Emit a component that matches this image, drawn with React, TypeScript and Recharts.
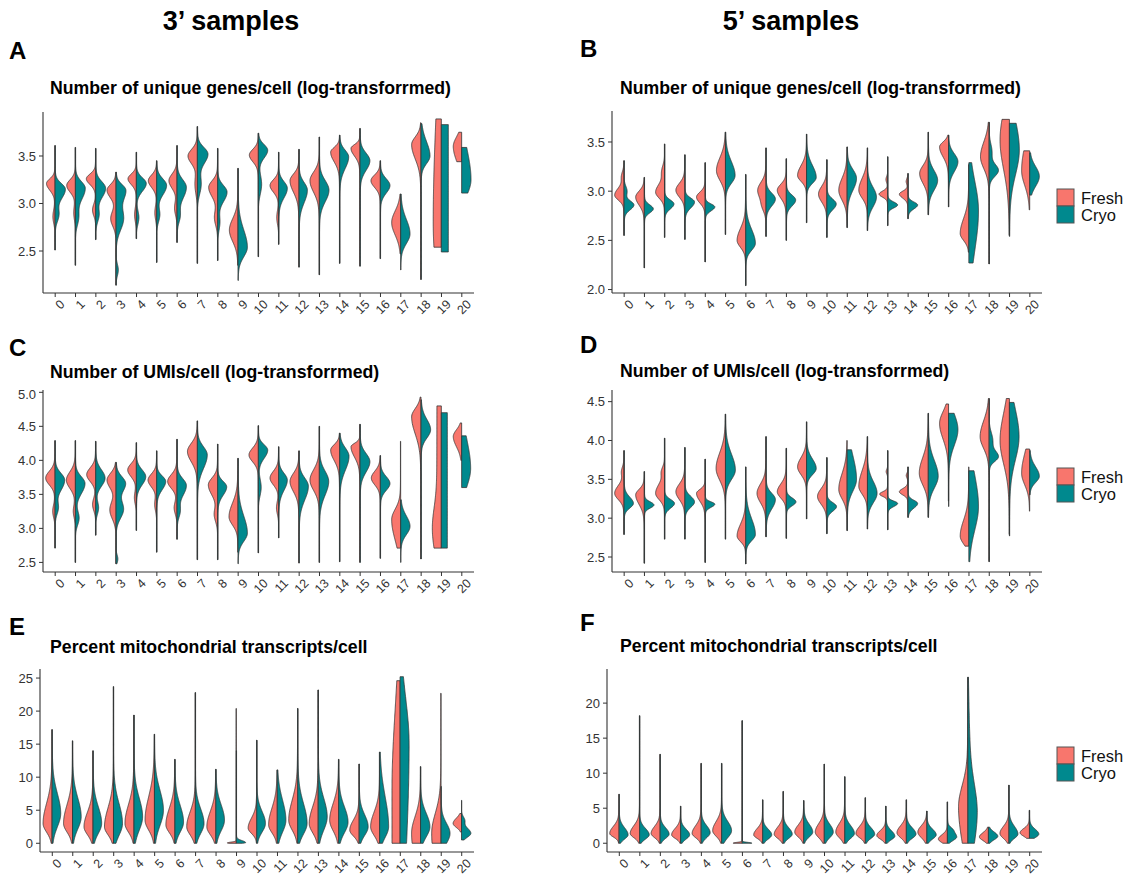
import React from 'react';
import { ComposedChart, Bar, XAxis, YAxis } from 'recharts';

// ---------- categories ----------
const CATS = ['0','1','2','3','4','5','6','7','8','9','10','11','12','13','14','15','16','17','18','19','20'];
const SERIES = ['Fresh', 'Cryo'];

// each half violin: [lo, hi, relWidth, mode, sdDown, sdUp, (mode2, amp2, sd2)...]
// ---------- A: genes/cell, 3' ----------
const genes3Fresh = [
  [2.51,3.61,0.95,3.21,0.07,0.05,2.86,0.25,0.07],
  [2.35,3.59,0.96,3.19,0.07,0.06,2.9,0.18,0.07],
  [2.62,3.58,1.04,3.26,0.06,0.05,2.93,0.35,0.06],
  [2.14,3.33,1.0,3.14,0.08,0.06,2.84,0.6,0.08],
  [2.63,3.54,0.93,3.26,0.06,0.05,2.88,0.22,0.07],
  [2.38,3.45,0.93,3.24,0.07,0.06,2.9,0.22,0.07],
  [2.59,3.61,0.9,3.24,0.08,0.07,2.95,0.3,0.07],
  [2.37,3.81,1.04,3.5,0.08,0.07,3.2,0.25,0.1],
  [2.4,3.58,1.0,3.17,0.1,0.07,2.85,0.35,0.08],
  [2.35,3.37,0.96,2.72,0.12,0.12],
  [2.44,3.74,1.0,3.51,0.07,0.06],
  [2.57,3.54,0.96,3.19,0.07,0.06,2.85,0.22,0.07],
  [2.33,3.57,1.0,3.24,0.12,0.07],
  [2.25,3.7,1.04,3.24,0.12,0.09],
  [2.37,3.72,1.0,3.54,0.1,0.05],
  [2.34,3.79,1.0,3.58,0.08,0.04],
  [2.42,3.45,1.04,3.24,0.07,0.06],
  [2.47,3.1,1.0,2.8,0.13,0.12],
  [2.2,3.85,1.04,3.62,0.15,0.08],
  [2.54,3.89,0.9,2.8,0.6,1.2],
  [3.44,3.75,0.93,3.6,0.15,0.1],
];
const genes3Cryo = [
  [2.51,3.61,1.15,3.15,0.1,0.06,2.88,0.35,0.07],
  [2.35,3.59,1.1,3.16,0.12,0.07,2.85,0.3,0.08],
  [2.62,3.58,1.1,3.16,0.1,0.07,2.88,0.32,0.07],
  [2.14,3.33,1.1,3.14,0.1,0.06,2.84,0.8,0.12,2.3,0.25,0.06],
  [2.63,3.54,1.1,3.21,0.08,0.06,2.85,0.25,0.07],
  [2.38,3.45,1.1,3.19,0.1,0.07,2.88,0.3,0.07],
  [2.59,3.61,1.04,3.17,0.12,0.08,2.87,0.3,0.07],
  [2.37,3.81,1.18,3.52,0.1,0.07,3.2,0.35,0.1],
  [2.4,3.58,1.04,3.12,0.1,0.07,2.8,0.22,0.08],
  [2.19,3.37,1.04,2.54,0.1,0.18],
  [2.44,3.74,1.04,3.56,0.08,0.06,3.2,0.35,0.1],
  [2.57,3.54,0.96,3.16,0.1,0.07],
  [2.33,3.57,0.93,3.14,0.13,0.08],
  [2.25,3.7,1.07,3.14,0.12,0.1],
  [2.37,3.72,1.0,3.49,0.12,0.07],
  [2.34,3.79,1.1,3.45,0.1,0.08],
  [2.42,3.45,1.07,3.19,0.08,0.07],
  [2.3,3.1,1.04,2.68,0.1,0.15],
  [2.2,3.84,1.0,3.5,0.08,0.15],
  [2.49,3.83,0.78,3.2,10,10],
  [3.11,3.59,1.04,3.25,0.15,0.3],
];

// ---------- B: genes/cell, 5' ----------
const genes5Fresh = [
  [2.55,3.31,1.04,2.96,0.05,0.07,3.15,0.25,0.05],
  [2.22,3.14,0.96,2.94,0.08,0.06],
  [2.53,3.48,1.0,2.99,0.06,0.08,3.2,0.3,0.06],
  [2.51,3.37,1.0,3.01,0.07,0.07],
  [2.28,3.29,0.96,2.94,0.06,0.05],
  [2.56,3.6,1.0,3.21,0.1,0.13],
  [2.04,3.17,0.96,2.5,0.07,0.12],
  [2.54,3.44,0.93,3.01,0.08,0.08,2.85,0.4,0.06],
  [2.5,3.33,1.0,3.01,0.08,0.06],
  [2.68,3.58,1.0,3.16,0.06,0.1],
  [2.53,3.32,0.93,2.97,0.08,0.08],
  [2.63,3.45,0.93,3.01,0.1,0.12],
  [2.6,3.44,0.96,3.01,0.08,0.12],
  [2.65,3.35,0.96,2.97,0.03,0.03,3.12,0.2,0.03],
  [2.72,3.18,0.96,2.97,0.04,0.03,3.1,0.2,0.03],
  [2.76,3.6,0.96,3.18,0.1,0.08],
  [2.84,3.57,1.0,3.45,0.1,0.05],
  [2.38,3.27,0.96,2.57,0.07,0.15],
  [2.26,3.7,0.96,3.35,0.12,0.15],
  [2.55,3.73,1.04,3.52,0.3,0.3],
  [2.81,3.41,0.9,3.21,0.15,0.25],
];
const genes5Cryo = [
  [2.55,3.31,1.1,2.86,0.05,0.04,3.0,0.3,0.05],
  [2.22,3.14,1.0,2.82,0.04,0.04],
  [2.53,3.48,1.04,2.87,0.05,0.04],
  [2.51,3.37,1.07,2.89,0.06,0.04],
  [2.28,3.29,1.07,2.84,0.04,0.03],
  [2.56,3.6,1.07,3.16,0.08,0.14],
  [2.04,3.17,1.07,2.47,0.07,0.14],
  [2.54,3.44,1.04,2.92,0.07,0.06],
  [2.5,3.33,1.04,2.91,0.06,0.05],
  [2.68,3.58,1.07,3.14,0.06,0.12],
  [2.53,3.32,1.04,2.87,0.06,0.05],
  [2.63,3.45,1.04,3.13,0.12,0.09],
  [2.6,3.44,1.0,2.94,0.1,0.1],
  [2.65,3.35,1.1,2.86,0.03,0.03],
  [2.72,3.18,1.07,2.86,0.04,0.03],
  [2.76,3.6,1.04,3.11,0.1,0.1],
  [2.84,3.57,1.04,3.3,0.1,0.08],
  [2.27,3.29,1.07,2.8,0.4,0.3],
  [2.26,3.7,1.04,3.21,0.06,0.06,3.4,0.3,0.08],
  [2.54,3.69,1.1,3.42,0.25,0.3],
  [2.96,3.39,1.07,3.15,0.1,0.1],
];

// ---------- C: UMIs/cell, 3' ----------
const umi3Fresh = [
  [2.71,4.29,1.04,3.74,0.1,0.1,3.25,0.25,0.09],
  [2.5,4.29,1.0,3.71,0.12,0.12,3.25,0.22,0.09],
  [2.9,4.28,1.0,3.79,0.1,0.1,3.35,0.35,0.09],
  [2.48,3.97,1.0,3.71,0.12,0.1,3.27,0.7,0.13],
  [2.97,4.26,0.96,3.86,0.1,0.09,3.45,0.22,0.09],
  [2.65,4.14,0.96,3.71,0.1,0.09,3.35,0.22,0.09],
  [2.84,4.31,1.04,3.69,0.1,0.1,3.3,0.3,0.09],
  [2.54,4.58,1.1,4.13,0.15,0.12],
  [2.54,4.24,1.04,3.64,0.15,0.1,3.2,0.35,0.1],
  [2.65,4.03,1.0,3.17,0.12,0.2],
  [2.64,4.51,1.04,4.08,0.1,0.1],
  [2.86,4.2,0.96,3.74,0.1,0.1,3.3,0.25,0.09],
  [2.49,4.14,1.0,3.69,0.15,0.12],
  [2.5,4.5,1.04,3.71,0.15,0.15],
  [2.51,4.4,1.0,4.15,0.15,0.08],
  [2.5,4.53,1.0,4.2,0.15,0.05],
  [2.56,4.07,1.0,3.74,0.1,0.1],
  [2.71,4.28,1.0,3.13,0.3,0.15],
  [2.55,4.93,1.04,4.64,0.25,0.12],
  [2.71,4.8,1.0,3.0,0.3,0.3,3.8,1.0,10],
  [4.0,4.55,0.93,4.35,0.15,0.1],
];
const umi3Cryo = [
  [2.71,4.29,1.07,3.71,0.15,0.1,3.3,0.32,0.09],
  [2.5,4.29,1.07,3.66,0.15,0.1,3.15,0.38,0.1],
  [2.9,4.28,1.04,3.74,0.12,0.12,3.3,0.3,0.09],
  [2.48,3.97,1.07,3.66,0.12,0.1,3.28,0.8,0.13,2.55,0.2,0.06],
  [2.97,4.26,1.04,3.76,0.12,0.1],
  [2.65,4.14,1.0,3.69,0.12,0.08],
  [2.84,4.31,1.04,3.63,0.15,0.1,3.25,0.3,0.09],
  [2.54,4.58,1.1,4.08,0.2,0.12],
  [2.54,4.24,1.0,3.61,0.12,0.08],
  [2.48,4.03,1.04,2.93,0.12,0.25],
  [2.64,4.51,1.04,4.15,0.12,0.08,3.6,0.3,0.12],
  [2.86,4.2,0.96,3.71,0.15,0.1],
  [2.49,4.14,1.04,3.62,0.2,0.12],
  [2.5,4.5,1.04,3.69,0.2,0.15],
  [2.51,4.4,1.04,4.06,0.2,0.12],
  [2.5,4.53,1.1,3.98,0.15,0.12],
  [2.56,4.07,1.07,3.66,0.1,0.1],
  [2.5,3.42,1.04,3.03,0.12,0.15],
  [2.55,4.89,1.07,4.45,0.12,0.15],
  [2.71,4.7,0.67,3.7,10,10],
  [3.6,4.36,1.0,3.88,0.25,0.4],
];

// ---------- D: UMIs/cell, 5' ----------
const umi5Fresh = [
  [2.79,3.87,1.04,3.32,0.08,0.1,3.6,0.25,0.06],
  [2.42,3.6,0.96,3.3,0.12,0.07],
  [2.73,4.03,1.0,3.32,0.08,0.12,3.6,0.3,0.06],
  [2.73,3.91,1.0,3.34,0.1,0.1],
  [2.43,3.76,0.96,3.32,0.1,0.05],
  [2.73,4.34,1.04,3.64,0.15,0.2],
  [2.41,3.66,0.96,2.77,0.07,0.15],
  [2.76,4.05,1.0,3.32,0.12,0.12],
  [2.74,3.9,1.0,3.34,0.08,0.1],
  [2.99,4.24,1.0,3.66,0.1,0.12],
  [2.8,3.78,1.04,3.28,0.1,0.1],
  [2.84,4.0,0.93,3.37,0.12,0.2],
  [2.86,4.05,0.96,3.41,0.1,0.2],
  [2.85,3.87,0.9,3.31,0.03,0.03,3.6,0.2,0.03],
  [3.01,3.66,0.96,3.34,0.04,0.04,3.55,0.2,0.03],
  [3.01,4.35,1.0,3.58,0.15,0.2],
  [3.22,4.47,1.0,4.22,0.2,0.15],
  [2.64,3.66,0.96,2.77,0.1,0.2],
  [2.44,4.54,1.0,4.05,0.15,0.2],
  [2.79,4.54,1.04,4.0,0.3,0.35],
  [3.09,3.89,0.9,3.58,0.15,0.25],
];
const umi5Cryo = [
  [2.79,3.87,1.04,3.19,0.06,0.08],
  [2.42,3.6,1.07,3.17,0.04,0.04],
  [2.73,4.03,1.1,3.19,0.06,0.05],
  [2.73,3.91,1.07,3.21,0.07,0.07],
  [2.43,3.76,1.07,3.18,0.04,0.03],
  [2.73,4.34,1.1,3.62,0.12,0.2],
  [2.41,3.66,1.07,2.79,0.08,0.2],
  [2.76,4.05,1.04,3.24,0.12,0.08],
  [2.74,3.9,1.07,3.21,0.05,0.05],
  [2.99,4.24,1.07,3.64,0.08,0.12],
  [2.8,3.78,1.07,3.15,0.06,0.05],
  [2.84,3.88,1.04,3.5,0.15,0.3],
  [2.86,4.05,1.07,3.32,0.12,0.15],
  [2.85,3.87,1.1,3.19,0.04,0.03],
  [3.01,3.66,1.07,3.19,0.06,0.04],
  [3.01,4.35,1.1,3.54,0.15,0.2],
  [3.15,4.35,1.04,4.14,0.2,0.2],
  [2.44,3.61,1.07,3.15,0.3,0.4],
  [2.44,4.54,1.04,3.79,0.06,0.07,4.0,0.4,0.1],
  [2.77,4.49,1.07,4.05,0.3,0.35],
  [3.3,3.87,1.07,3.54,0.08,0.12],
];

// ---------- E: percent mito, 3' ----------
const mito3Fresh = [
  [0,17.2,1.0,3.0,1.3,3.0],
  [0,15.5,1.0,3.0,1.3,2.8],
  [0,14.0,1.0,2.5,1.2,2.2],
  [0,23.7,1.0,2.5,1.2,2.8],
  [0,19.4,1.0,3.0,1.3,2.8],
  [0,16.5,1.04,3.5,1.5,3.5],
  [0,12.7,1.0,2.8,1.2,2.5],
  [0,22.8,0.96,2.5,1.2,2.2],
  [0,11.2,1.0,2.5,1.2,2.3],
  [0,20.4,1.0,0.05,0.1,0.12],
  [0,15.6,0.96,2.3,0.8,1.5],
  [0,11.1,0.96,2.8,1.2,2.5],
  [0,20.4,1.0,3.5,1.5,3.0],
  [0,23.2,1.0,3.0,1.4,2.5],
  [0,12.7,1.0,3.5,1.6,2.5],
  [0,12.0,1.04,2.0,0.9,1.5],
  [0,13.8,1.0,2.5,1.3,2.2],
  [0,24.6,0.9,8,100,12],
  [0,11.6,1.0,1.5,4,2.5],
  [0,22.7,1.04,1.5,5,3.0],
  [1.7,4.5,0.93,3.0,0.6,0.8],
];
const mito3Cryo = [
  [0,17.2,0.96,4.5,2.0,3.0],
  [0,15.5,0.96,4.0,1.8,2.8],
  [0,14.0,0.96,3.0,1.5,2.5],
  [0,23.7,1.0,3.0,1.8,3.0],
  [0,19.4,0.96,4.0,2.0,2.8],
  [0,16.5,1.0,5.0,2.3,3.0],
  [0,12.7,0.96,3.2,1.5,2.5],
  [0,22.8,0.96,3.0,1.5,2.2],
  [0,11.2,0.96,3.5,1.6,2.3],
  [0,14.0,1.04,0.1,0.1,0.3],
  [0,15.6,0.96,3.0,1.3,1.8],
  [0,11.1,0.96,3.5,1.8,3.0],
  [0,20.4,1.04,3.0,1.6,3.0],
  [0,23.2,1.0,4.0,2.0,2.8],
  [0,12.7,1.04,3.2,1.6,2.3],
  [0,12.0,1.0,2.5,1.3,1.8],
  [0,13.8,1.0,2.5,1.6,4.5],
  [0,25.2,1.0,15,18,7],
  [0,11.6,1.04,2.5,1.5,2.0],
  [0,8.6,1.0,1.5,1.5,1.5],
  [0.5,6.5,1.04,1.5,0.6,0.8,3.5,0.3,0.5],
];

// ---------- F: percent mito, 5' ----------
const mito5Fresh = [
  [0,7.0,1.04,1.4,0.5,1.0],
  [0,18.2,1.04,1.4,0.6,1.1],
  [0,12.7,1.0,1.4,0.6,1.0],
  [0,5.3,1.0,1.2,0.5,0.9],
  [0,11.4,1.0,1.4,0.6,1.1],
  [0,11.4,1.0,1.8,0.8,1.3],
  [0,17.5,1.0,0.02,0.1,0.1],
  [0,6.2,1.0,1.2,0.5,0.9],
  [0,7.4,1.0,1.3,0.6,1.0],
  [0,6.1,1.0,1.6,0.7,1.0],
  [0,11.3,1.0,1.6,0.8,1.2],
  [0,9.5,1.0,1.6,0.8,1.2],
  [0,6.5,1.04,1.4,0.6,1.0],
  [0,5.3,1.0,1.1,0.5,0.7],
  [0,6.2,1.04,1.5,0.7,1.0],
  [0,4.6,1.0,1.6,0.8,0.9],
  [0,5.9,1.0,0.6,0.5,0.6],
  [0,23.7,1.04,5.2,5.0,3.0],
  [0,2.3,1.0,0.9,0.5,0.6],
  [0,8.3,1.0,1.4,0.7,1.0],
  [0.7,4.7,1.04,1.5,0.5,0.6],
];
const mito5Cryo = [
  [0,7.0,1.0,1.2,0.6,1.0],
  [0,18.2,1.07,1.2,0.6,0.9],
  [0,12.7,1.0,1.3,0.6,0.9],
  [0,5.3,1.0,1.2,0.6,0.8],
  [0,11.4,1.0,1.5,0.7,1.0],
  [0,11.4,1.1,1.8,1.0,1.3],
  [0,17.5,1.07,0.02,0.1,0.1],
  [0,6.2,1.0,1.2,0.6,0.8],
  [0,7.4,1.0,1.3,0.6,0.9],
  [0,6.1,1.0,1.6,0.7,1.1],
  [0,11.3,1.0,1.6,0.8,1.1],
  [0,9.5,1.07,1.4,0.7,1.1],
  [0,6.5,1.04,1.3,0.6,0.9],
  [0,5.3,1.0,1.0,0.5,0.8],
  [0,6.2,1.07,1.3,0.6,0.9],
  [0,4.6,1.04,1.2,0.6,0.8],
  [0,5.9,1.04,0.9,0.5,0.8,2.0,0.2,0.3],
  [0,23.7,1.04,4.2,5.0,4.0,10,0.25,8],
  [0,2.3,1.04,1.0,0.5,0.6],
  [0,8.3,1.0,1.3,0.6,1.1],
  [0.7,4.7,1.04,1.3,0.5,0.7],
];

// ---------- axis ticks ----------
const ticksA = [2.5, 3.0, 3.5];
const ticksB = [2.0, 2.5, 3.0, 3.5];
const ticksC = [2.5, 3.0, 3.5, 4.0, 4.5, 5.0];
const ticksD = [2.5, 3.0, 3.5, 4.0, 4.5];
const ticksE = [0, 5, 10, 15, 20, 25];
const ticksF = [0, 5, 10, 15, 20];

const TITLE_GENES = 'Number of unique genes/cell (log-transforrmed)';
const TITLE_UMIS = 'Number of UMIs/cell (log-transforrmed)';
const TITLE_MITO = 'Percent mitochondrial transcripts/cell';

const FRESH = '#F8766D';
const CRYO = '#00898E';
const FONT = '"Liberation Sans", Arial, Helvetica, sans-serif';
const INK = '#333333';

function halfPath(spec: number[], cx: number, half: number, dir: number, toY: (v: number) => number) {
  const [l, h, w, m, sdD, sdU, ...ex] = spec;
  const comps: { m: number; a: number; d: number; u: number }[] = [{ m, a: 1, d: sdD, u: sdU }];
  for (let i = 0; i + 2 < ex.length; i += 3) comps.push({ m: ex[i], a: ex[i + 1], d: ex[i + 2], u: ex[i + 2] });
  const vs: number[] = [];
  const N = 180;
  for (let i = 0; i <= N; i++) vs.push(l + ((h - l) * i) / N);
  comps.forEach((c) => {
    const sd = Math.min(Math.max(c.d, c.u), h - l);
    for (let k = -40; k <= 40; k++) {
      const v = c.m + (k / 10) * sd;
      if (v > l && v < h) vs.push(v);
    }
  });
  vs.sort((a, b) => a - b);
  const dens = (v: number) =>
    comps.reduce((s, c, j) => {
      const sd = v < c.m ? c.d : c.u;
      const z = (v - c.m) / sd;
      const tail = j === 0 ? 0.05 * Math.exp(-0.5 * (z / 3.2) * (z / 3.2)) : 0;
      return s + c.a * Math.exp(-0.5 * z * z) + tail;
    }, 0);
  const ps = vs.map(dens);
  const pmax = Math.max(...ps);
  let d = `M${cx},${toY(l).toFixed(2)}`;
  vs.forEach((v, i) => {
    const ww = half * w * Math.max(ps[i] / pmax, 0.025);
    d += `L${(cx + dir * ww).toFixed(2)},${toY(v).toFixed(2)}`;
  });
  d += `L${cx},${toY(h).toFixed(2)}Z`;
  return d;
}

const ViolinShape = (props: any) => {
  const { x, y, width, height, payload } = props;
  if (!payload || width == null) return null;
  const cx = x + width / 2;
  const half = width / 2;
  const top = Math.min(y, y + height);
  const bottom = Math.max(y, y + height);
  const { lo, hi } = payload;
  const toY = (v: number) => bottom - ((v - lo) / (hi - lo)) * (bottom - top);
  return (
    <g>
      <path d={halfPath(payload.fresh, cx, half, -1, toY)} fill={FRESH} stroke={INK} strokeWidth={0.8} strokeLinejoin="round" />
      <path d={halfPath(payload.cryo, cx, half, 1, toY)} fill={CRYO} stroke={INK} strokeWidth={0.8} strokeLinejoin="round" />
    </g>
  );
};

const XTick = (props: any) => {
  const { x, y, payload } = props;
  return (
    <g transform={`translate(${x + 4},${y + 1}) rotate(-45)`}>
      <text x={0} y={0} dy="0.7em" textAnchor="end" fontSize={12.5} fill={INK} fontFamily={FONT}>
        {payload.value}
      </text>
    </g>
  );
};

type Cfg = { axisX: number; right: number; top: number; bottom: number; domain: [number, number]; ticks: number[] };

function Panel({ cfg, fresh, cryo }: { cfg: Cfg; fresh: number[][]; cryo: number[][] }) {
  const data = CATS.map((c, i) => ({
    cat: c,
    fresh: fresh[i],
    cryo: cryo[i],
    lo: Math.min(fresh[i][0], cryo[i][0]),
    hi: Math.max(fresh[i][1], cryo[i][1]),
  }));
  const YW = 44, MT = 4, MR = 4, XH = 30;
  const plotW = cfg.right - cfg.axisX;
  const width = YW + plotW + MR;
  const height = MT + (cfg.bottom - cfg.top) + XH;
  const s = plotW / 21.2;
  const decimals = cfg.ticks.some((t) => t % 1 !== 0);
  return (
    <div style={{ position: 'absolute', left: cfg.axisX - YW, top: cfg.top - MT }}>
      <ComposedChart width={width} height={height} data={data} margin={{ top: MT, right: MR, bottom: 0, left: 0 }} barCategoryGap="5%">
        <XAxis
          dataKey="cat"
          type="category"
          interval={0}
          padding={{ left: 0.1 * s, right: 0.1 * s }}
          height={XH}
          tick={<XTick />}
          tickSize={4}
          tickMargin={1}
          axisLine={{ stroke: INK, strokeWidth: 1.1 }}
          tickLine={{ stroke: INK, strokeWidth: 1 }}
        />
        <YAxis
          type="number"
          domain={cfg.domain}
          ticks={cfg.ticks}
          allowDataOverflow
          width={YW}
          tickSize={4}
          tickMargin={3}
          tickFormatter={(v: number) => (decimals ? v.toFixed(1) : String(v))}
          tick={{ fontSize: 13, fill: INK, fontFamily: FONT }}
          axisLine={{ stroke: INK, strokeWidth: 1.1 }}
          tickLine={{ stroke: INK, strokeWidth: 1 }}
        />
        <Bar dataKey={(d: any) => [d.lo, d.hi]} shape={ViolinShape} isAnimationActive={false} />
      </ComposedChart>
    </div>
  );
}

const PANEL_A: Cfg = { axisX: 43, right: 474, top: 112, bottom: 293, domain: [2.058, 3.963], ticks: ticksA };
const PANEL_B: Cfg = { axisX: 612, right: 1042, top: 111, bottom: 293, domain: [1.965, 3.815], ticks: ticksB };
const PANEL_C: Cfg = { axisX: 43, right: 474, top: 390, bottom: 572, domain: [2.359, 5.034], ticks: ticksC };
const PANEL_D: Cfg = { axisX: 612, right: 1042, top: 390, bottom: 572, domain: [2.307, 4.65], ticks: ticksD };
const PANEL_E: Cfg = { axisX: 40, right: 474, top: 669, bottom: 852, domain: [-1.32, 26.37], ticks: ticksE };
const PANEL_F: Cfg = { axisX: 607, right: 1042, top: 669, bottom: 852, domain: [-1.25, 24.87], ticks: ticksF };

function LegendKeys({ x, y }: { x: number; y: number }) {
  return (
    <g>
      {SERIES.map((s, i) => (
        <g key={s}>
          <rect x={x} y={y + i * 17} width={17} height={17} fill={i === 0 ? FRESH : CRYO} stroke="#555" strokeWidth={1} />
          <text x={x + 24} y={y + i * 17 + 14.5} fontSize={16.5} fill="#111" fontFamily={FONT}>{s}</text>
        </g>
      ))}
    </g>
  );
}

export default function App() {
  return (
    <div style={{ position: 'absolute', left: 0, top: 0, width: 1132, height: 875, overflow: 'hidden', background: '#fff', fontFamily: FONT }}>
      <Panel cfg={PANEL_A} fresh={genes3Fresh} cryo={genes3Cryo} />
      <Panel cfg={PANEL_B} fresh={genes5Fresh} cryo={genes5Cryo} />
      <Panel cfg={PANEL_C} fresh={umi3Fresh} cryo={umi3Cryo} />
      <Panel cfg={PANEL_D} fresh={umi5Fresh} cryo={umi5Cryo} />
      <Panel cfg={PANEL_E} fresh={mito3Fresh} cryo={mito3Cryo} />
      <Panel cfg={PANEL_F} fresh={mito5Fresh} cryo={mito5Cryo} />
      <svg width={1132} height={875} style={{ position: 'absolute', left: 0, top: 0, pointerEvents: 'none' }}>
        <g fontFamily={FONT} fontWeight="bold" fill="#000">
          <text x={231} y={30} fontSize={27} textAnchor="middle">3’ samples</text>
          <text x={791} y={30} fontSize={27} textAnchor="middle">5’ samples</text>
          <text x={9} y={59} fontSize={24}>A</text>
          <text x={580} y={57} fontSize={24}>B</text>
          <text x={9} y={356} fontSize={24}>C</text>
          <text x={580} y={353} fontSize={24}>D</text>
          <text x={9} y={635} fontSize={24}>E</text>
          <text x={580} y={631} fontSize={24}>F</text>
          <text x={50} y={94} fontSize={17.7}>{TITLE_GENES}</text>
          <text x={620} y={94} fontSize={17.7}>{TITLE_GENES}</text>
          <text x={50} y={378} fontSize={17.7}>{TITLE_UMIS}</text>
          <text x={620} y={377} fontSize={17.7}>{TITLE_UMIS}</text>
          <text x={50} y={653} fontSize={17.7}>{TITLE_MITO}</text>
          <text x={620} y={652} fontSize={17.7}>{TITLE_MITO}</text>
        </g>
        <LegendKeys x={1057} y={189} />
        <LegendKeys x={1057} y={468} />
        <LegendKeys x={1057} y={747} />
      </svg>
    </div>
  );
}
